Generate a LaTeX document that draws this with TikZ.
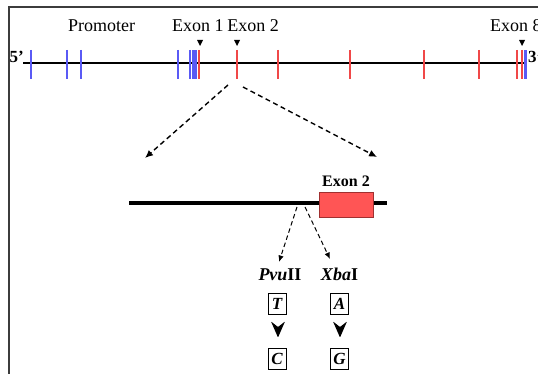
\documentclass[tikz,border=0pt]{standalone}
\usepackage{fontspec}
\setmainfont{Liberation Serif}
\usetikzlibrary{arrows.meta}
\definecolor{exblue}{HTML}{5A5AF5}
\definecolor{exred}{HTML}{F04848}
\definecolor{boxred}{HTML}{FF5555}
\definecolor{boxedge}{HTML}{A03030}
\definecolor{framegray}{HTML}{3C3C3C}

\begin{document}
\begin{tikzpicture}[x=1pt,y=-1pt,
  lbl/.style={font=\fontsize{18}{20}\selectfont, inner sep=0pt},
  endlbl/.style={font=\fontsize{17}{19}\selectfont\bfseries, inner sep=0pt},
  bluetick/.style={exblue, line width=2pt},
  redtick/.style={exred, line width=2pt},
  zoomarrow/.style={line width=1.4pt, dash pattern=on 5pt off 3.5pt, -{Latex[length=8pt,width=7pt]}},
  siteline/.style={line width=1pt, dash pattern=on 4.5pt off 3pt, -{Latex[length=6.5pt,width=5.5pt]}},
  basebox/.style={draw, line width=0.7pt, minimum width=18pt, minimum height=21pt, inner sep=0pt,
    font=\fontsize{17}{19}\selectfont\bfseries\itshape},
  enzyme/.style={font=\fontsize{18}{20}\selectfont\bfseries, inner sep=0pt, anchor=base}]
\useasboundingbox (0,0) rectangle (538,374);

% frame
\draw[framegray, line width=1.3pt] (9,374) -- (9,7) -- (538,7);

% whole gene backbone
\coordinate (g5) at (23,63);
\coordinate (g3) at (527,63);
\draw[line width=1.2pt] (g5) -- (g3);
\node[endlbl, anchor=base east] (p5) at (24,63) {5’};
\node[endlbl, anchor=base west] (p3) at (528,63) {3’};

% promoter elements (blue)
\foreach \x in {30.7,66.7,81,178,190}
  \draw[bluetick] (\x,50) -- (\x,79);
\fill[exblue] (191.5,50) rectangle (197.2,79);
\fill[exblue] (524,50) rectangle (527.2,79);

% exons (red)
\foreach \x in {198.7,236.7,278,350,424,479,516.7,521.5}
  \draw[redtick] (\x,50) -- (\x,79);

% exon markers
\foreach \x/\n in {200/m1,237/m2,522/m8}{
  \coordinate (\n) at (\x,43);
  \fill (\x-3,40) -- (\x+3,40) -- (\x,46) -- cycle;
}

% labels
\node[lbl, anchor=base] (prom) at (101.7,32) {Promoter};
\node[lbl, anchor=base west] (ex1) at (172,32) {Exon 1};
\node[lbl, anchor=base east] (ex2) at (279,32) {Exon 2};
\node[lbl, anchor=base west] (ex8) at (490,32) {Exon 8};

% enlargement of exon 2 region
\coordinate (zs1) at (228,85);
\coordinate (ze1) at (145,158);
\coordinate (zs2) at (243,87);
\coordinate (ze2) at (377,157);
\draw[zoomarrow] (zs1) -- (ze1);
\draw[zoomarrow] (zs2) -- (ze2);

\coordinate (dl) at (129,203);
\coordinate (dr) at (387,203);
\draw[line width=4pt] (dl) -- (dr);
\node[draw=boxedge, fill=boxred, line width=0.8pt, minimum width=54pt, minimum height=25pt,
  inner sep=0pt] (exbox) at (346,204.5) {};
\node[font=\fontsize{16}{18}\selectfont\bfseries, inner sep=0pt, anchor=base] (exlbl) at (346,187) {Exon 2};

% polymorphic sites
\coordinate (s1) at (297,207);
\coordinate (s2) at (305,207);
\node[enzyme] (pvu) at (280,280) {\textit{Pvu}II};
\node[enzyme] (xba) at (339.5,280) {\textit{Xba}I};
\draw[siteline] (s1) -- (279,262);
\draw[siteline] (s2) -- (330,259);

\node[basebox] (bT) at (277,303.5) {T};
\node[basebox] (bA) at (339.5,303.5) {A};
\node[basebox] (bC) at (277,358.5) {C};
\node[basebox] (bG) at (339.5,358.5) {G};

% substitution chevrons
\foreach \x in {278,340}
  \fill[rounded corners=0.6pt] (\x-7,321.5) -- (\x,327) -- (\x+7,321.5) -- (\x,337.5) -- cycle;
\end{tikzpicture}
\end{document}
